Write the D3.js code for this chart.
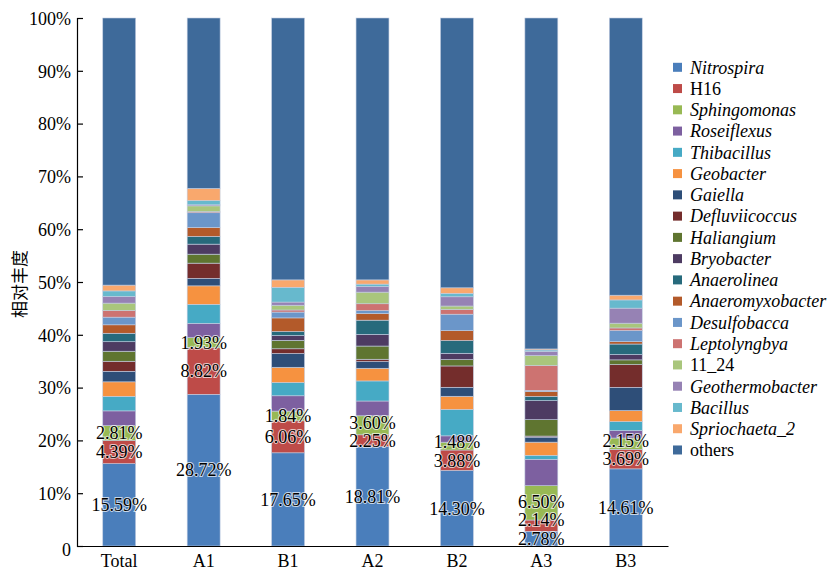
<!DOCTYPE html>
<html><head><meta charset="utf-8">
<script src="https://cdn.jsdelivr.net/npm/d3@7/dist/d3.min.js"></script>
<style>body{margin:0;background:#fff}svg{display:block}</style>
</head><body><svg id="c" width="834" height="571"></svg>
<script>
const categories = ["Total","A1","B1","A2","B2","A3","B3"];
const seriesNames = ["Nitrospira","H16","Sphingomonas","Roseiflexus","Thibacillus","Geobacter","Gaiella","Defluviicoccus","Haliangium","Bryobacter","Anaerolinea","Anaeromyxobacter","Desulfobacca","Leptolyngbya","11_24","Geothermobacter","Bacillus","Spriochaeta_2","others"];
const italicSeries = [true,false,true,true,true,true,true,true,true,true,true,true,true,true,false,true,true,true,false];
const colors = ["#4a7ebb","#be4b48","#98b954","#7d60a0","#46aac5","#f69240","#2e4e78","#742d2c","#5f7530","#4d3b62","#276a7c","#b35a2a","#6b96c9","#cd7371","#a9c67c","#9682b4","#67b9cd","#f9a86d","#3e6a9a"];
const Nitrospira = [15.59,28.72,17.65,18.81,14.30,2.78,14.61];
const H16 = [4.39,8.82,6.06,2.25,3.88,2.14,3.69];
const Sphingomonas = [2.81,1.93,1.84,3.60,1.48,6.50,2.15];
const Roseiflexus = [2.8,2.7,2.9,2.8,1.2,5.0,1.4];
const Thibacillus = [2.75,3.6,2.5,3.8,5.0,0.75,1.7];
const Geobacter = [2.75,3.5,2.9,2.4,2.5,2.5,2.1];
const Gaiella = [2.0,1.4,2.6,1.26,1.7,0.95,4.4];
const Defluviicoccus = [1.9,2.9,0.9,0.45,4.04,0.2,4.3];
const Haliangium = [1.9,1.7,1.6,2.5,1.2,3.1,0.9];
const Bryobacter = [1.8,1.9,0.9,2.2,1.2,3.6,1.0];
const Anaerolinea = [1.6,1.45,0.75,2.7,2.4,0.8,2.0];
const Anaeromyxobacter = [1.6,1.7,2.6,1.26,1.9,0.95,0.45];
const Desulfobacca = [1.45,2.8,1.1,0.55,3.1,0.2,2.1];
const Leptolyngbya = [1.26,0.2,0.4,1.3,0.9,4.7,0.5];
const s11_24 = [1.4,1.1,0.9,2.2,0.65,1.9,0.9];
const Geothermobacter = [1.26,0.2,0.6,1.07,1.75,0.8,2.85];
const Bacillus = [1.05,0.8,2.8,0.45,0.65,0.25,1.55];
const Spriochaeta_2 = [1.1,2.3,1.4,0.8,1.05,0.2,0.9];
const others = [50.59,32.28,49.6,49.6,51.1,62.68,52.5];
const yTicks = [0,10,20,30,40,50,60,70,80,90,100];
const labeledSeries = ["Nitrospira","H16","Sphingomonas"];

const seriesValues = [Nitrospira,H16,Sphingomonas,Roseiflexus,Thibacillus,Geobacter,Gaiella,Defluviicoccus,Haliangium,Bryobacter,Anaerolinea,Anaeromyxobacter,Desulfobacca,Leptolyngbya,s11_24,Geothermobacter,Bacillus,Spriochaeta_2,others];
const table = categories.map((c,i)=>{const o={cat:c};seriesNames.forEach((s,j)=>o[s]=seriesValues[j][i]);return o;});
const stacked = d3.stack().keys(seriesNames)(table);

const svg = d3.select("#c");
const serif = "'Times New Roman','Liberation Serif',serif";
const x = d3.scaleBand().domain(categories).range([77,668]).paddingInner(0.61).paddingOuter(0.305);
const y = d3.scaleLinear().domain([0,100]).range([546,18]);
const color = d3.scaleOrdinal().domain(seriesNames).range(colors);

// bars
svg.append("g").selectAll("g").data(stacked).join("g")
  .attr("fill", d=>color(d.key))
  .selectAll("rect").data(d=>d).join("rect")
  .attr("x", d=>x(d.data.cat))
  .attr("width", x.bandwidth())
  .attr("y", d=>y(d[1]))
  .attr("height", d=>Math.max(0,y(d[0])-y(d[1])))
  .attr("stroke","#c3cee2").attr("stroke-width",0.6);

// axes
const ya = svg.append("g").attr("transform","translate(77,0)")
  .call(d3.axisLeft(y).tickValues(yTicks).tickSize(-6).tickPadding(6).tickFormat(d=>d===0?"0":d+"%"));
ya.select(".domain").attr("stroke","#000").attr("stroke-width",1.2);
ya.selectAll(".tick line").attr("stroke","#000").attr("stroke-width",1.2);
ya.selectAll("text").attr("font-family",serif).attr("font-size",18).attr("fill","#000").attr("dy","0.35em");
ya.selectAll(".tick").filter(d=>d===0).select("text").attr("dy","0.5em");

const xa = svg.append("g").attr("transform","translate(0,546)")
  .call(d3.axisBottom(x).tickSize(0).tickPadding(8));
xa.select(".domain").attr("stroke","#000").attr("stroke-width",1.2);
xa.selectAll("text").attr("font-family",serif).attr("font-size",18).attr("fill","#000");

// y title
svg.append("text").attr("transform","translate(26,284) rotate(-90)")
  .attr("text-anchor","middle").attr("font-family","'Noto Sans CJK SC',sans-serif")
  .attr("font-size",17).attr("fill","#000").text("相对丰度");

// value labels
const lg = svg.append("g");
categories.forEach((c,i)=>{
  let prev = Infinity;
  labeledSeries.forEach(s=>{
    const layer = stacked.find(l=>l.key===s);
    const seg = layer[i];
    let yy = y((seg[0]+seg[1])/2);
    if (yy > prev - 18.5) yy = prev - 18.5;
    prev = yy;
    lg.append("text").attr("x", x(c)+x.bandwidth()/2).attr("y", yy).attr("dy","0.35em")
      .attr("text-anchor","middle").attr("font-family",serif).attr("font-size",18)
      .attr("fill","#000").attr("stroke","#fff").attr("stroke-width",2).attr("stroke-opacity",0.7)
      .attr("paint-order","stroke").text(seg.data[s].toFixed(2)+"%");
  });
});

// legend
const leg = svg.append("g").selectAll("g").data(seriesNames).join("g")
  .attr("transform",(d,i)=>`translate(673,${67.3+i*21.26})`);
leg.append("rect").attr("x",0).attr("y",-4.5).attr("width",9).attr("height",9).attr("fill",d=>color(d));
leg.append("text").attr("x",17).attr("y",0).attr("dy","0.35em")
  .attr("font-family",serif).attr("font-size",18).attr("fill","#000")
  .attr("font-style",(d,i)=>italicSeries[i]?"italic":"normal").text(d=>d);
</script></body></html>
